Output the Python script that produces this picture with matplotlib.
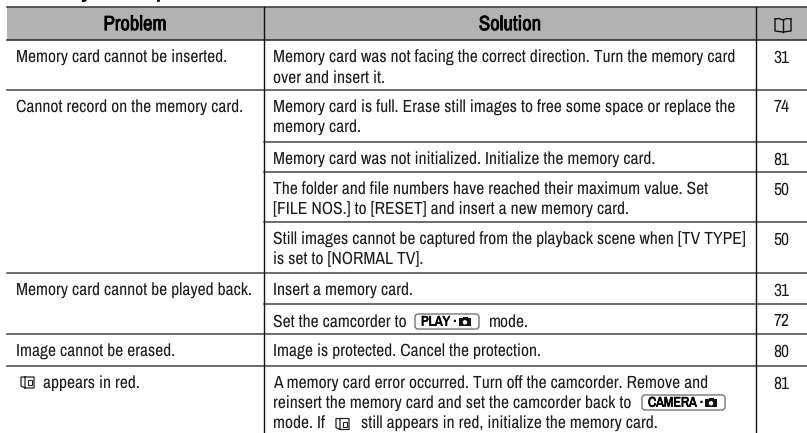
import matplotlib
matplotlib.use('Agg')
import matplotlib.pyplot as plt
import matplotlib.patheffects as pe
from matplotlib.patches import Rectangle, FancyBboxPatch

plt.rcParams['font.family'] = ['Archivo Narrow', 'Liberation Sans', 'DejaVu Sans']
plt.rcParams['text.hinting'] = 'no_hinting'

title = 'Memory card operation'
headers = ['Problem', 'Solution']

problems = ['Memory card cannot be inserted.', 'Cannot record on the memory card.',
            'Memory card cannot be played back.', 'Image cannot be erased.', 'appears in red.']

solutions = [
    ['Memory card was not facing the correct direction. Turn the memory card', 'over and insert it.'],
    ['Memory card is full. Erase still images to free some space or replace the', 'memory card.'],
    ['Memory card was not initialized. Initialize the memory card.'],
    ['The folder and file numbers have reached their maximum value. Set', '[FILE NOS.] to [RESET] and insert a new memory card.'],
    ['Still images cannot be captured from the playback scene when [TV TYPE]', 'is set to [NORMAL TV].'],
    ['Insert a memory card.'],
    ['Set the camcorder to', 'mode.'],
    ['Image is protected. Cancel the protection.'],
    ['A memory card error occurred. Turn off the camcorder. Remove and',
     'reinsert the memory card and set the camcorder back to',
     'mode. If', 'still appears in red, initialize the memory card.'],
]
pages = ['31', '74', '81', '50', '50', '31', '72', '80', '81']

# pixel layout of the table
W, H = 807, 433
left, col1, col2 = 7, 264, 756
head_top, head_bot = 7, 40
row_tops = [40, 90, 142, 172, 222, 273, 304, 334, 366]
problem_rows = [0, 1, 5, 7, 8]
full_lines = [90, 273, 334, 366]
part_lines = [142, 172, 222, 304]

fig = plt.figure(figsize=(W / 100, H / 100), dpi=100)
ax = fig.add_axes([0, 0, 1, 1])
ax.set_xlim(0, W)
ax.set_ylim(H, 0)
ax.axis('off')

FS = 12.65
INK = '#1c1c1c'
LINE = 20
heavy = [pe.withStroke(linewidth=0.5, foreground='k')]


def small_book(x, y):
    # little book symbol, top left at x, y
    ax.plot([x + 4, x, x, x + 4, x + 4, x + 13, x + 13, x + 4], [y, y, y + 9, y + 11, y, y, y + 11, y + 11],
            color='#222222', lw=0.9)
    ax.add_patch(Rectangle((x + 6.5, y + 3), 4, 5, fc='none', ec='#222222', lw=0.8))


def pill(x0, x1, y0, y1, label, fs):
    ax.add_patch(FancyBboxPatch((x0 + 2, y0 + 2), x1 - x0 - 4, y1 - y0 - 4, boxstyle='round,pad=2,rounding_size=3',
                                fc='white', ec='#666666', lw=0.9))
    ax.text(x0 + 6, (y0 + y1) / 2 + 0.3, label, fontsize=fs, fontweight='bold', va='center', color='k',
            path_effects=heavy)
    # camera symbol
    cx = x1 - 20
    ax.add_patch(Rectangle((cx, y0 + 4), 12, y1 - y0 - 7, fc='#111111', ec='none'))
    ax.add_patch(Rectangle((cx + 3.5, y0 + 2.6), 5, 2, fc='#111111', ec='none'))
    ax.add_patch(plt.Circle((cx + 6, (y0 + y1) / 2 + 0.8), 2.2, fc='white', ec='none'))


ax.add_patch(Rectangle((left, head_top), W - left, head_bot - head_top, fc='#b2b2b2', ec='none'))
# title is cropped by the top edge in the original too
ax.text(16, -3, title, fontsize=18.4, fontweight='bold', va='baseline', color='k', path_effects=heavy)
ax.text(135, 24.5, headers[0], fontsize=14.9, fontweight='bold', ha='center', va='center', color='k',
        path_effects=heavy)
ax.text(510, 24.5, headers[1], fontsize=14.9, fontweight='bold', ha='center', va='center', color='k',
        path_effects=heavy)

# book symbol in the header
ax.plot([775, 775, 783, 791, 791], [19, 31, 32, 31, 19], color='#111111', lw=1)
ax.plot([775, 779, 783, 787, 791], [19, 18.5, 20, 18.5, 19], color='#111111', lw=1)
ax.plot([783, 783], [20, 32], color='#111111', lw=1)

ax.plot([left, W], [head_top, head_top], color='#333333', lw=1.1)
ax.plot([left, W], [head_bot, head_bot], color='#222222', lw=1.1)
for y in full_lines:
    ax.plot([left, W], [y, y], color='#444444', lw=1.1)
for y in part_lines:
    ax.plot([col1, W], [y, y], color='#444444', lw=1.1)
for x in [col1, col2]:
    ax.plot([x, x], [head_top, H], color='#111111', lw=1)

for top, pg in zip(row_tops, pages):
    ax.text(781, top + 17.5, pg, fontsize=FS, ha='center', va='center', color=INK)
for i, lines in enumerate(solutions):
    top = row_tops[i] + 17.5
    if i == 6:
        ax.text(273, top, lines[0], fontsize=FS, va='center', color=INK)
        pill(415, 479, 314, 329, 'PLAY ·', 10)
        ax.text(489, top, lines[1], fontsize=FS, va='center', color=INK)
    elif i == 8:
        ax.text(273, top, lines[0], fontsize=FS, va='center', color=INK)
        ax.text(273, top + LINE, lines[1], fontsize=FS, va='center', color=INK)
        pill(642, 725, 395, 410, 'CAMERA ·', 10)
        ax.text(273, top + 2 * LINE, lines[2], fontsize=FS, va='center', color=INK)
        small_book(336, top + 2 * LINE - 5)
        ax.text(361, top + 2 * LINE, lines[3], fontsize=FS, va='center', color=INK)
    else:
        for j, s in enumerate(lines):
            ax.text(273, top + j * LINE, s, fontsize=FS, va='center', color=INK)
for r, s in zip(problem_rows, problems):
    x = 43 if r == 8 else 16
    ax.text(x, row_tops[r] + 17.5, s, fontsize=FS, va='center', color=INK)
small_book(21, 377)

fig.savefig('out.png', dpi=100)
